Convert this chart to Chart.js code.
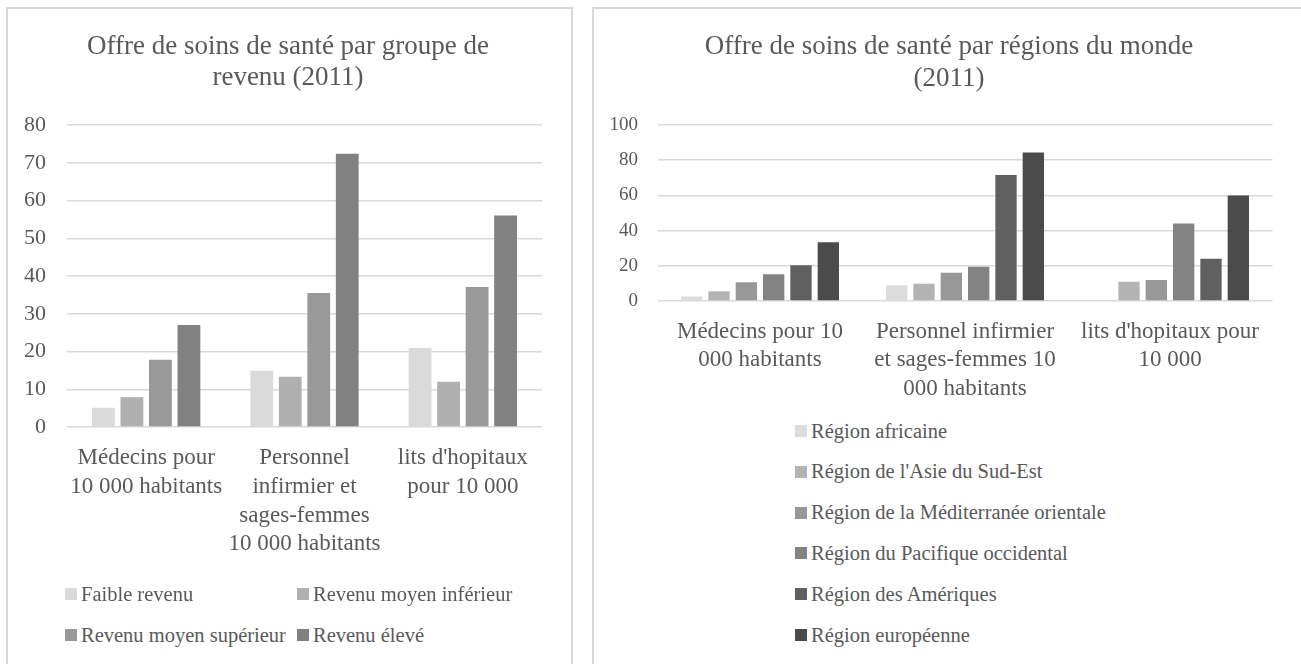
<!DOCTYPE html>
<html lang="fr">
<head>
<meta charset="utf-8">
<title>Offre de soins de santé (2011)</title>
<script src="https://cdn.jsdelivr.net/npm/chart.js@4.4.1/dist/chart.umd.min.js"></script>
<style>
  body { margin: 0; width: 1301px; height: 664px; overflow: hidden; position: relative; background: #fff; font-family: "Liberation Serif", serif; color: #595959; }
  .box { position: absolute; top: 7px; height: 720px; box-sizing: border-box; border: 2px solid #d9d9d9; }
  .wrap { position: absolute; }
  .item { position: absolute; display: flex; align-items: center; height: 24px; font-size: 20.5px; white-space: nowrap; }
  .item i { display: inline-block; width: 12px; height: 12px; margin-right: 4px; }
</style>
</head>
<body>
<div class="box" style="left:6px;width:567px"></div>
<div class="box" style="left:592px;width:730px"></div>

<div class="wrap" style="left:8px;top:9px;width:560px;height:580px"><canvas id="revenu"></canvas></div>
<div class="wrap" style="left:594px;top:9px;width:710px;height:400px"><canvas id="regions"></canvas></div>
<div id="legendRevenu"></div>
<div id="legendRegions"></div>

<script>
// --- chart 1 : groupes de revenu
const revenuTitle = ["Offre de soins de santé par groupe de", "revenu (2011)"];
const revenuLabels = [
  ["Médecins pour", "10 000 habitants"],
  ["Personnel", "infirmier et", "sages-femmes", "10 000 habitants"],
  ["lits d'hopitaux", "pour 10 000"]
];
const revenuNames = ["Faible revenu", "Revenu moyen inférieur", "Revenu moyen supérieur", "Revenu élevé"];
const faibleRevenu = [5.1, 14.9, 20.9];
const moyenInferieur = [7.9, 13.3, 12];
const moyenSuperieur = [17.8, 35.5, 37.1];
const revenuEleve = [27, 72.4, 56];
const revenuColors = ["#dadada", "#b0b0b0", "#999999", "#818181"];

// --- chart 2 : régions du monde
const regionsTitle = ["Offre de soins de santé par régions du monde", "(2011)"];
const regionsLabels = [
  ["Médecins pour 10", "000 habitants"],
  ["Personnel infirmier", "et sages-femmes 10", "000 habitants"],
  ["lits d'hopitaux pour", "10 000"]
];
const regionsNames = [
  "Région africaine",
  "Région de l'Asie du Sud-Est",
  "Région de la Méditerranée orientale",
  "Région du Pacifique occidental",
  "Région des Amériques",
  "Région européenne"
];
const africaine = [2.5, 9, null];
const asieSudEst = [5.5, 9.8, 11];
const mediterranee = [10.7, 16, 12];
const pacifique = [15.2, 19.5, 44];
const ameriques = [20.3, 71.6, 24];
const europeenne = [33.4, 84.3, 60];
const regionsColors = ["#dcdcdc", "#b3b3b3", "#989898", "#838383", "#606060", "#4b4b4b"];

Chart.defaults.font.family = "'Liberation Serif', serif";
Chart.defaults.color = "#595959";
Chart.defaults.animation = false;

function barChart(id, cfg) {
  new Chart(document.getElementById(id), {
    type: "bar",
    data: {
      labels: cfg.labels,
      datasets: cfg.series.map((data, i) => ({
        label: cfg.names[i],
        data: data,
        backgroundColor: cfg.colors[i],
        categoryPercentage: cfg.catPct,
        barPercentage: cfg.barPct
      }))
    },
    options: {
      responsive: true,
      maintainAspectRatio: false,
      layout: { padding: 0 },
      plugins: {
        legend: { display: false },
        tooltip: { enabled: false },
        title: {
          display: true,
          text: cfg.title,
          color: "#595959",
          font: { size: 27, weight: "normal", lineHeight: cfg.titleLine },
          padding: cfg.titlePad
        }
      },
      scales: {
        x: {
          grid: { display: false, drawTicks: false },
          border: { display: false },
          ticks: { font: { size: cfg.catSize, lineHeight: cfg.catLine }, padding: cfg.catPad, maxRotation: 0, autoSkip: false },
          afterFit: (s) => { s.height = cfg.xHeight; }
        },
        y: {
          min: 0,
          max: cfg.max,
          ticks: { stepSize: cfg.step, font: { size: cfg.tickSize }, padding: cfg.tickPad },
          grid: { color: "#d9d9d9", lineWidth: 1.5, drawTicks: false },
          border: { display: false },
          afterFit: (s) => { s.width = cfg.yWidth; }
        },
        // empty right-hand axis, only there to keep the title centred on the box
        yPad: {
          position: "right",
          ticks: { display: false },
          grid: { display: false, drawTicks: false },
          border: { display: false },
          afterFit: (s) => { s.width = cfg.rightGap; }
        }
      }
    }
  });
}

barChart("revenu", {
  labels: revenuLabels,
  names: revenuNames,
  series: [faibleRevenu, moyenInferieur, moyenSuperieur, revenuEleve],
  colors: revenuColors,
  title: revenuTitle,
  titleLine: 1.15,
  titlePad: { top: 22.5, bottom: 31.4 },
  catPct: 0.72, barPct: 0.8,
  catSize: 23, catLine: 1.25, catPad: 16.6, xHeight: 162,
  max: 80, step: 10, tickSize: 22, tickPad: 21, yWidth: 59, rightGap: 26
});

barChart("regions", {
  labels: regionsLabels,
  names: regionsNames,
  series: [africaine, asieSudEst, mediterranee, pacifique, ameriques, europeenne],
  colors: regionsColors,
  title: regionsTitle,
  titleLine: 1.185,
  titlePad: { top: 22, bottom: 30 },
  catPct: 0.8, barPct: 0.78,
  catSize: 23, catLine: 1.24, catPad: 16.3, xHeight: 108,
  max: 100, step: 20, tickSize: 19, tickPad: 19.5, yWidth: 63.5, rightGap: 31.5
});

// legends (HTML, built from the series names / colours)
function legend(boxId, names, colors, place) {
  const box = document.getElementById(boxId);
  names.forEach((name, i) => {
    const p = place(i);
    const el = document.createElement("div");
    el.className = "item";
    el.style.left = p.x + "px";
    el.style.top = (p.y - 12) + "px";
    el.innerHTML = '<i style="background:' + colors[i] + '"></i>' + name;
    box.appendChild(el);
  });
}
legend("legendRevenu", revenuNames, revenuColors, (i) => ({ x: [65, 297][i % 2], y: [594, 635][Math.floor(i / 2)] }));
legend("legendRegions", regionsNames, regionsColors, (i) => ({ x: 795, y: 431 + i * 40.8 }));
</script>
</body>
</html>
